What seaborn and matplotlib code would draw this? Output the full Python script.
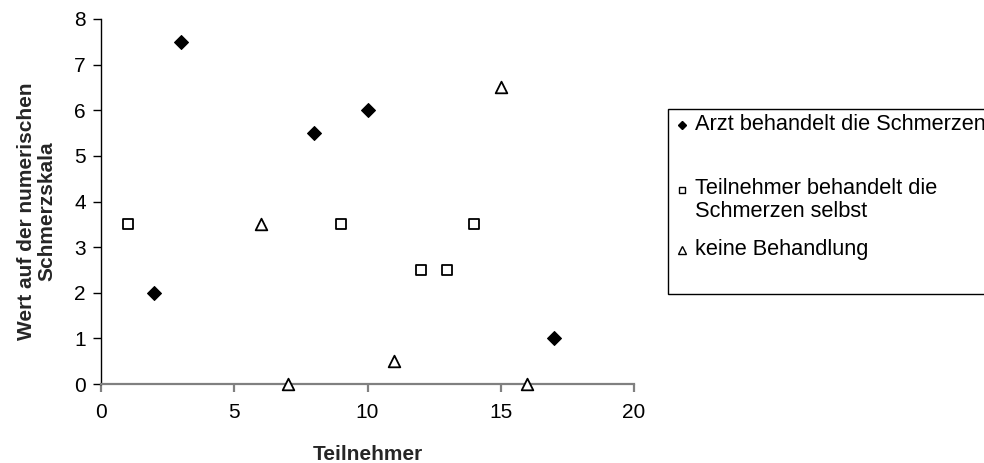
import matplotlib
matplotlib.use("Agg")
import matplotlib.pyplot as plt
from matplotlib.lines import Line2D
from matplotlib.patches import Rectangle
import seaborn as sns
import pandas as pd

# Participants and their pain-scale values per treatment group
arzt_x = [2, 3, 8, 10, 17]
arzt_y = [2, 7.5, 5.5, 6, 1]
selbst_x = [1, 9, 12, 13, 14]
selbst_y = [3.5, 3.5, 2.5, 2.5, 3.5]
keine_x = [6, 7, 11, 15, 16]
keine_y = [3.5, 0, 0.5, 6.5, 0]

labels = ["Arzt behandelt die Schmerzen",
          "Teilnehmer behandelt die\nSchmerzen selbst",
          "keine Behandlung"]

sns.set_theme(style="white")
plt.rcParams["font.family"] = ["Liberation Sans", "DejaVu Sans"]

fig = plt.figure(figsize=(9.84, 4.63), dpi=100)
ax = fig.add_axes([101 / 984, 1 - 384 / 463, 533 / 984, 365 / 463])

df_a = pd.DataFrame({"x": arzt_x, "y": arzt_y})
df_s = pd.DataFrame({"x": selbst_x, "y": selbst_y})
df_k = pd.DataFrame({"x": keine_x, "y": keine_y})

sns.scatterplot(data=df_a, x="x", y="y", ax=ax, marker="D", s=50,
                color="black", edgecolor="black", linewidth=0.8, legend=False,
                clip_on=False, zorder=3)
sns.scatterplot(data=df_s, x="x", y="y", ax=ax, marker="s", s=50,
                facecolor="white", edgecolor="black", linewidth=1.3, legend=False,
                clip_on=False, zorder=3)
sns.scatterplot(data=df_k, x="x", y="y", ax=ax, marker="^", s=70,
                facecolor="white", edgecolor="black", linewidth=1.3, legend=False,
                clip_on=False, zorder=3)

ax.set_xlim(0, 20)
ax.set_ylim(0, 8)
ax.set_xticks([0, 5, 10, 15, 20])
ax.set_yticks(range(0, 9))

for side in ("top", "right"):
    ax.spines[side].set_visible(False)
ax.spines["left"].set_color("black")
ax.spines["left"].set_linewidth(1.0)
ax.spines["bottom"].set_color("#808080")
ax.spines["bottom"].set_linewidth(1.6)

ax.tick_params(axis="y", direction="out", length=6, width=1.0, color="black",
               labelsize=15, pad=5, left=True)
ax.tick_params(axis="x", direction="out", length=6, width=1.6, color="#808080",
               labelsize=15, pad=8, bottom=True)
for t in ax.get_xticklabels() + ax.get_yticklabels():
    t.set_color("black")

ax.set_xlabel("Teilnehmer", fontsize=15, fontweight="bold", labelpad=16)
ax.set_ylabel("Wert auf der numerischen\nSchmerzskala", fontsize=15,
              fontweight="bold", linespacing=1.1)
ax.yaxis.set_label_coords(-0.083, 0.474)

# Legend box with entries, extending past the right figure edge
box = Rectangle((668 / 984, 1 - 294 / 463), 330 / 984, 185 / 463,
                transform=fig.transFigure, facecolor="white",
                edgecolor="black", linewidth=1.0, clip_on=False)
fig.patches.append(box)

entry_y = [125, 190, 250]
entry_style = [dict(marker="D", markersize=4.5, markerfacecolor="black"),
               dict(marker="s", markersize=5, markerfacecolor="white"),
               dict(marker="^", markersize=5.4, markerfacecolor="white")]
for yy, lab, st in zip(entry_y, labels, entry_style):
    fy = 1 - yy / 463
    fig.add_artist(Line2D([682 / 984], [fy], transform=fig.transFigure,
                          linestyle="none", markeredgecolor="black",
                          markeredgewidth=1.0, **st))
    if "\n" in lab:
        # first line of the two-line entry sits level with its marker
        fig.text(695 / 984, 1 - (yy - 12) / 463, lab, fontsize=15.7, va="top",
                 ha="left", color="black", linespacing=1.1)
    else:
        fig.text(695 / 984, fy, lab, fontsize=15.7, va="center",
                 ha="left", color="black")

fig.savefig("out.png", dpi=100)
